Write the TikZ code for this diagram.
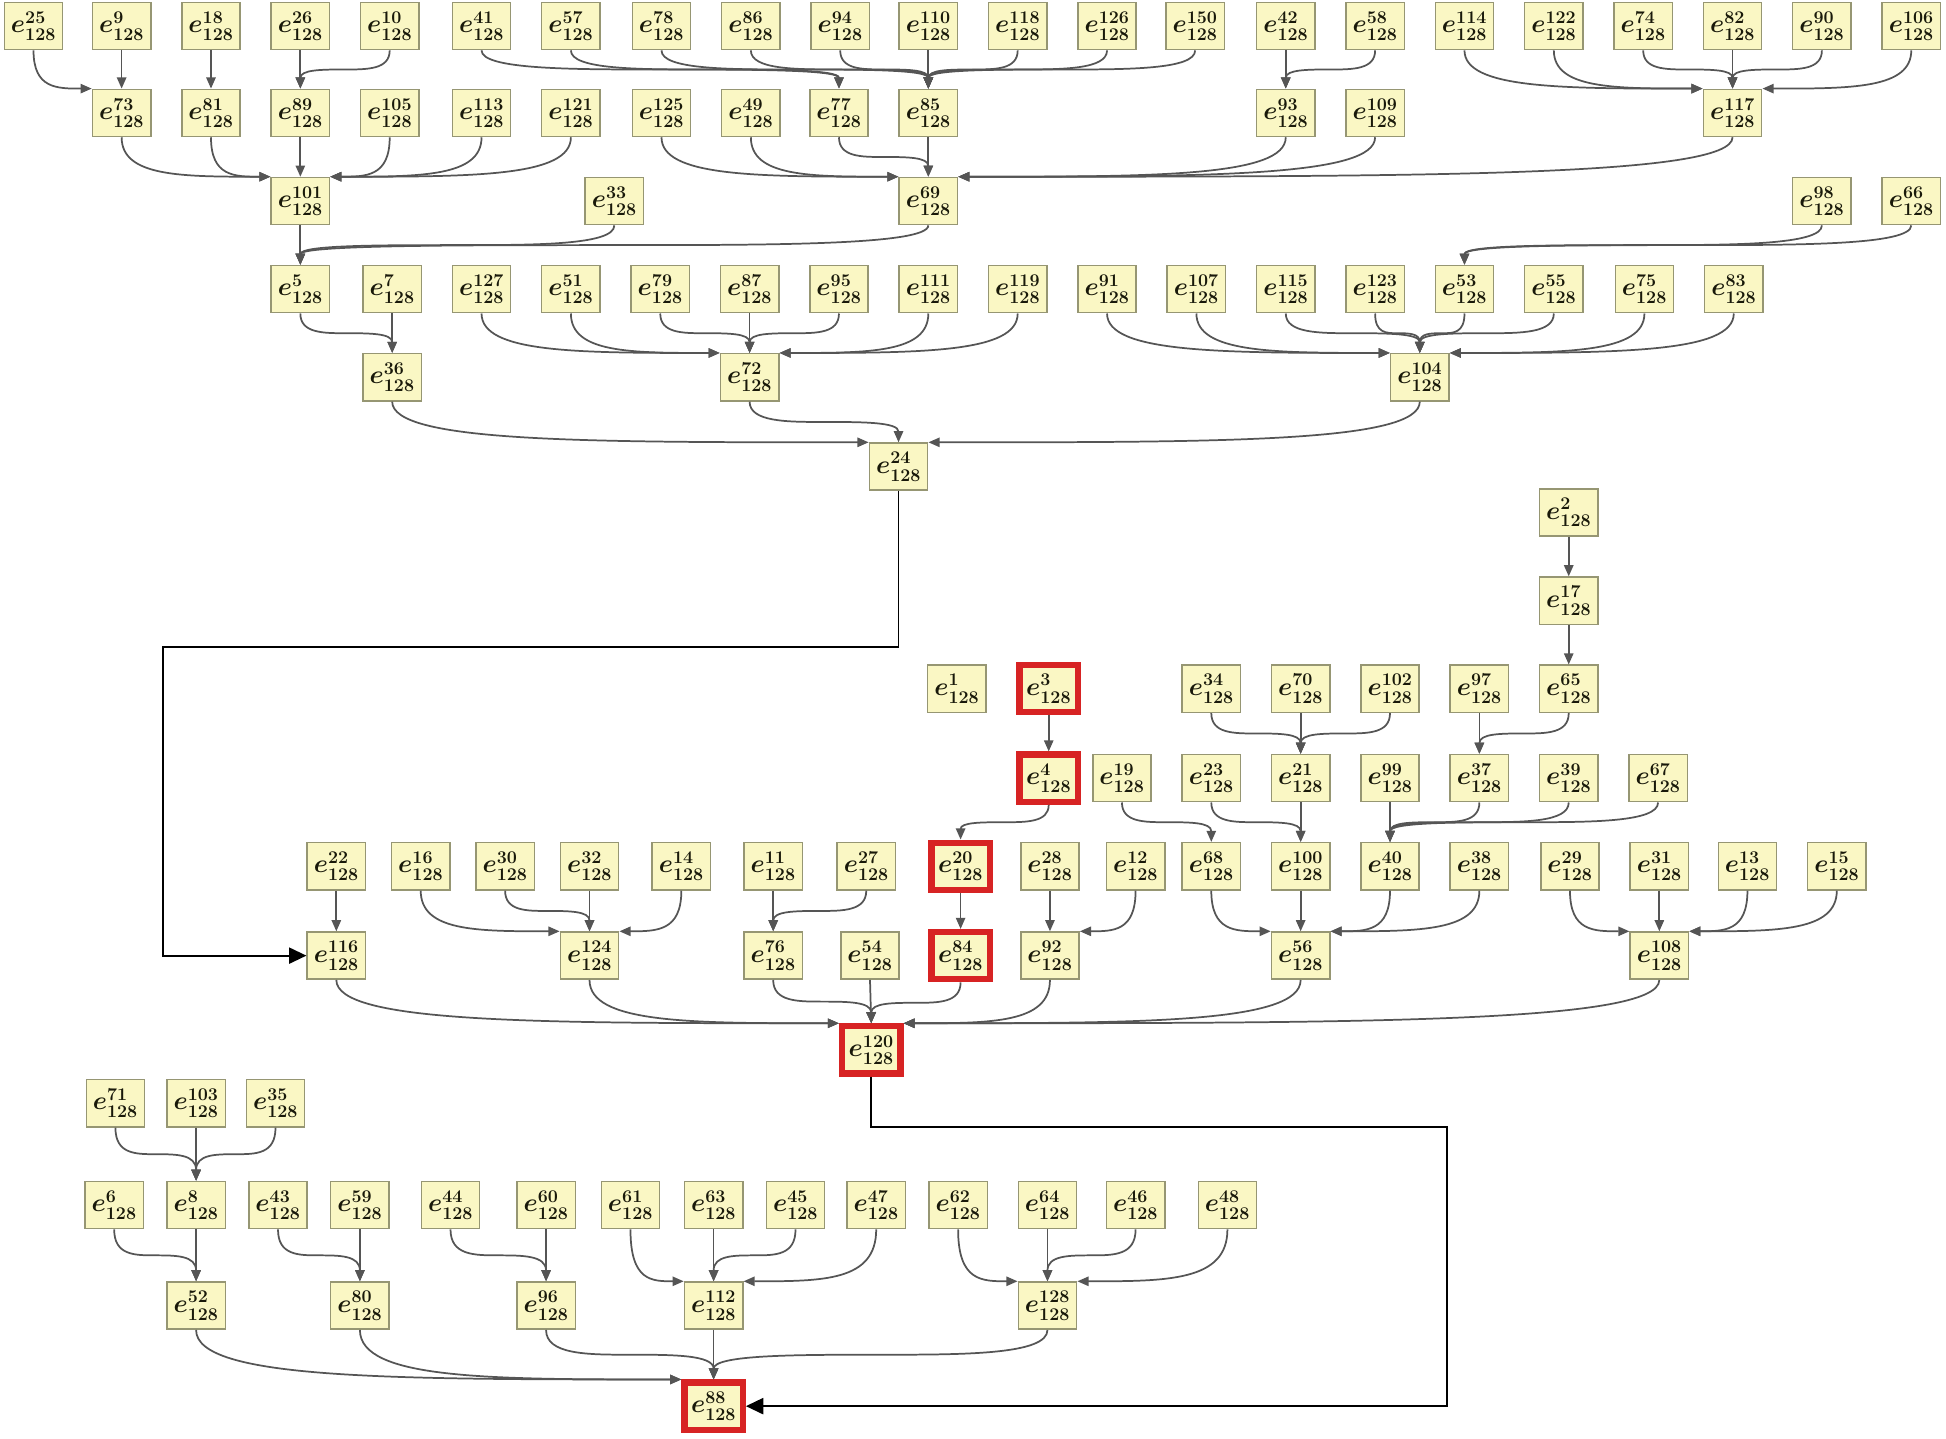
\documentclass[tikz,border=0pt]{standalone}
\usetikzlibrary{arrows.meta,calc}
\definecolor{boxfill}{RGB}{250,247,196}
\definecolor{boxline}{RGB}{150,150,115}
\definecolor{edgec}{RGB}{85,85,85}
\definecolor{redc}{RGB}{215,35,35}
\definecolor{txt}{RGB}{25,25,10}
\newcommand\Nd[4][nbox]{\node[#1] (e#2) at (#3,#4) {$e^{#2}_{128}$};}
\newcommand\EdV[2]{\draw[edg] (e#1.south) -- (e#2.north);}
\newcommand\EdT[2]{\draw[edg] (e#1.south) to[tp] (e#2.north);}
\newcommand\EdL[2]{\draw[edg] (e#1.south) to[sd] (e#2.north west);}
\newcommand\EdR[2]{\draw[edg] (e#1.south) to[sd] (e#2.north east);}
\begin{document}
\begin{tikzpicture}[x=1pt,y=-1pt,
 nbox/.style={draw=boxline, fill=boxfill, line width=1.2pt, minimum width=47pt, minimum height=38pt, inner sep=0pt, text=txt, font=\fontsize{20}{22}\selectfont\boldmath},
 rbox/.style={nbox, draw=redc, line width=5pt},
 edg/.style={draw=edgec, line width=1.4pt, -{Triangle[length=9pt,width=7.5pt]}},
 bk/.style={draw=black, line width=1.5pt, -{Triangle[length=14pt,width=13pt]}},
 tp/.style={to path={let \p1=(\tikztostart), \p2=(\tikztotarget), \p3=($(\p1)!0.5!(\p2)$) in .. controls (\x1,\y3) and ($(\x1,\y3)!0.5!(\p3)$) .. (\p3) .. controls ($(\x2,\y3)!0.5!(\p3)$) and (\x2,\y3) .. (\p2)}},
 sd/.style={to path={.. controls (\tikztostart |- \tikztotarget) and ($(\tikztostart |- \tikztotarget)!0.4!(\tikztotarget)$) .. (\tikztotarget)}}]
\useasboundingbox[fill=white] (0,0) rectangle (1568,1159);
% Row A
\Nd{25}{27}{21} \Nd{9}{98}{21} \Nd{18}{170}{21} \Nd{26}{242}{21} \Nd{10}{314}{21}
\Nd{41}{388}{21} \Nd{57}{460}{21} \Nd{78}{533}{21} \Nd{86}{605}{21} \Nd{94}{677}{21}
\Nd{110}{748}{21} \Nd{118}{820}{21} \Nd{126}{892}{21} \Nd{150}{963}{21} \Nd{42}{1036}{21}
\Nd{58}{1108}{21} \Nd{114}{1180}{21} \Nd{122}{1252}{21} \Nd{74}{1324}{21} \Nd{82}{1396}{21}
\Nd{90}{1468}{21} \Nd{106}{1540}{21}
% Row B
\Nd{73}{98}{91} \Nd{81}{170}{91} \Nd{89}{242}{91} \Nd{105}{314}{91} \Nd{113}{388}{91}
\Nd{121}{460}{91} \Nd{125}{533}{91} \Nd{49}{605}{91} \Nd{77}{676}{91} \Nd{85}{748}{91}
\Nd{93}{1036}{91} \Nd{109}{1108}{91} \Nd{117}{1396}{91}
% Row C
\Nd{101}{242}{162} \Nd{33}{495}{162} \Nd{69}{748}{162} \Nd{98}{1468}{162} \Nd{66}{1540}{162}
% Row D
\Nd{5}{242}{233} \Nd{7}{316}{233} \Nd{127}{388}{233} \Nd{51}{460}{233} \Nd{79}{532}{233}
\Nd{87}{604}{233} \Nd{95}{676}{233} \Nd{111}{748}{233} \Nd{119}{820}{233} \Nd{91}{892}{233}
\Nd{107}{964}{233} \Nd{115}{1036}{233} \Nd{123}{1108}{233} \Nd{53}{1180}{233} \Nd{55}{1252}{233}
\Nd{75}{1325}{233} \Nd{83}{1397}{233}
% Row E, F
\Nd{36}{316}{304} \Nd{72}{604}{304} \Nd{104}{1144}{304}
\Nd{24}{724}{376}
% Middle
\Nd{2}{1264}{413} \Nd{17}{1264}{484}
\Nd{1}{771}{555} \Nd[rbox]{3}{845}{555} \Nd{34}{976}{555} \Nd{70}{1048}{555} \Nd{102}{1120}{555}
\Nd{97}{1192}{555} \Nd{65}{1264}{555}
\Nd[rbox]{4}{845}{627} \Nd{19}{904}{627} \Nd{23}{976}{627} \Nd{21}{1048}{627} \Nd{99}{1120}{627}
\Nd{37}{1192}{627} \Nd{39}{1264}{627} \Nd{67}{1336}{627}
\Nd{22}{271}{698} \Nd{16}{339}{698} \Nd{30}{407}{698} \Nd{32}{475}{698} \Nd{14}{549}{698}
\Nd{11}{623}{698} \Nd{27}{698}{698} \Nd[rbox]{20}{774}{698} \Nd{28}{846}{698} \Nd{12}{915}{698}
\Nd{68}{976}{698} \Nd{100}{1048}{698} \Nd{40}{1120}{698} \Nd{38}{1192}{698} \Nd{29}{1265}{698}
\Nd{31}{1337}{698} \Nd{13}{1408}{698} \Nd{15}{1480}{698}
\Nd{116}{271}{770} \Nd{124}{475}{770} \Nd{76}{623}{770} \Nd{54}{701}{770} \Nd[rbox]{84}{774}{770}
\Nd{92}{846}{770} \Nd{56}{1048}{770} \Nd{108}{1337}{770}
\Nd[rbox]{120}{702}{846}
% Bottom
\Nd{71}{93}{889} \Nd{103}{158}{889} \Nd{35}{222}{889}
\Nd{6}{92}{971} \Nd{8}{158}{971} \Nd{43}{224}{971} \Nd{59}{290}{971} \Nd{44}{363}{971}
\Nd{60}{440}{971} \Nd{61}{508}{971} \Nd{63}{575}{971} \Nd{45}{641}{971} \Nd{47}{706}{971}
\Nd{62}{772}{971} \Nd{64}{844}{971} \Nd{46}{915}{971} \Nd{48}{989}{971}
\Nd{52}{158}{1052} \Nd{80}{290}{1052} \Nd{96}{440}{1052} \Nd{112}{575}{1052} \Nd{128}{844}{1052}
\Nd[rbox]{88}{575}{1133}
% Edges A->B
\EdL{25}{73} \EdV{9}{73} \EdV{18}{81} \EdV{26}{89} \EdT{10}{89}
\EdT{41}{77} \EdT{57}{77}
\EdT{78}{85} \EdT{86}{85} \EdT{94}{85} \EdV{110}{85} \EdT{118}{85} \EdT{126}{85} \EdT{150}{85}
\EdV{42}{93} \EdT{58}{93}
\EdL{114}{117} \EdL{122}{117} \EdT{74}{117} \EdV{82}{117} \EdT{90}{117} \EdR{106}{117}
% B->C
\EdL{73}{101} \EdL{81}{101} \EdV{89}{101} \EdR{105}{101} \EdR{113}{101} \EdR{121}{101}
\EdL{125}{69} \EdL{49}{69} \EdT{77}{69} \EdV{85}{69} \EdR{93}{69} \EdR{109}{69} \EdR{117}{69}
% C->D
\EdV{101}{5} \EdT{33}{5} \EdT{69}{5} \EdT{98}{53} \EdT{66}{53}
% D->E
\EdT{5}{36} \EdV{7}{36}
\EdL{127}{72} \EdL{51}{72} \EdT{79}{72} \EdV{87}{72} \EdT{95}{72} \EdR{111}{72} \EdR{119}{72}
\EdL{91}{104} \EdL{107}{104} \EdT{115}{104} \EdT{123}{104} \EdT{53}{104} \EdT{55}{104} \EdR{75}{104} \EdR{83}{104}
% E->F
\EdL{36}{24} \EdT{72}{24} \EdR{104}{24}
% Middle
\EdV{2}{17} \EdV{17}{65} \EdV{3}{4}
\EdT{34}{21} \EdV{70}{21} \EdT{102}{21} \EdV{97}{37} \EdT{65}{37}
\EdT{4}{20} \EdT{19}{68} \EdT{23}{100} \EdV{21}{100} \EdV{99}{40} \EdT{37}{40} \EdT{39}{40} \EdT{67}{40}
\EdV{22}{116} \EdL{16}{124} \EdT{30}{124} \EdV{32}{124} \EdR{14}{124}
\EdV{11}{76} \EdT{27}{76} \EdV{20}{84} \EdV{28}{92} \EdR{12}{92}
\EdL{68}{56} \EdV{100}{56} \EdR{40}{56} \EdR{38}{56}
\EdL{29}{108} \EdV{31}{108} \EdR{13}{108} \EdR{15}{108}
\EdL{116}{120} \EdL{124}{120} \EdT{76}{120} \EdV{54}{120} \EdT{84}{120} \EdR{92}{120} \EdR{56}{120} \EdR{108}{120}
% Bottom
\EdT{71}{8} \EdV{103}{8} \EdT{35}{8}
\EdT{6}{52} \EdV{8}{52} \EdT{43}{80} \EdV{59}{80} \EdT{44}{96} \EdV{60}{96}
\EdL{61}{112} \EdV{63}{112} \EdT{45}{112} \EdR{47}{112}
\EdL{62}{128} \EdV{64}{128} \EdT{46}{128} \EdR{48}{128}
\EdL{52}{88} \EdL{80}{88} \EdT{96}{88} \EdV{112}{88} \EdT{128}{88}
% Long black connectors
\coordinate (j1) at (131,521);
\coordinate (j2) at (1166,908);
\draw[bk] (e24.south) |- (j1) |- (e116.west);
\draw[bk] (e120.south) |- (j2) |- (e88.east);
\end{tikzpicture}
\end{document}
